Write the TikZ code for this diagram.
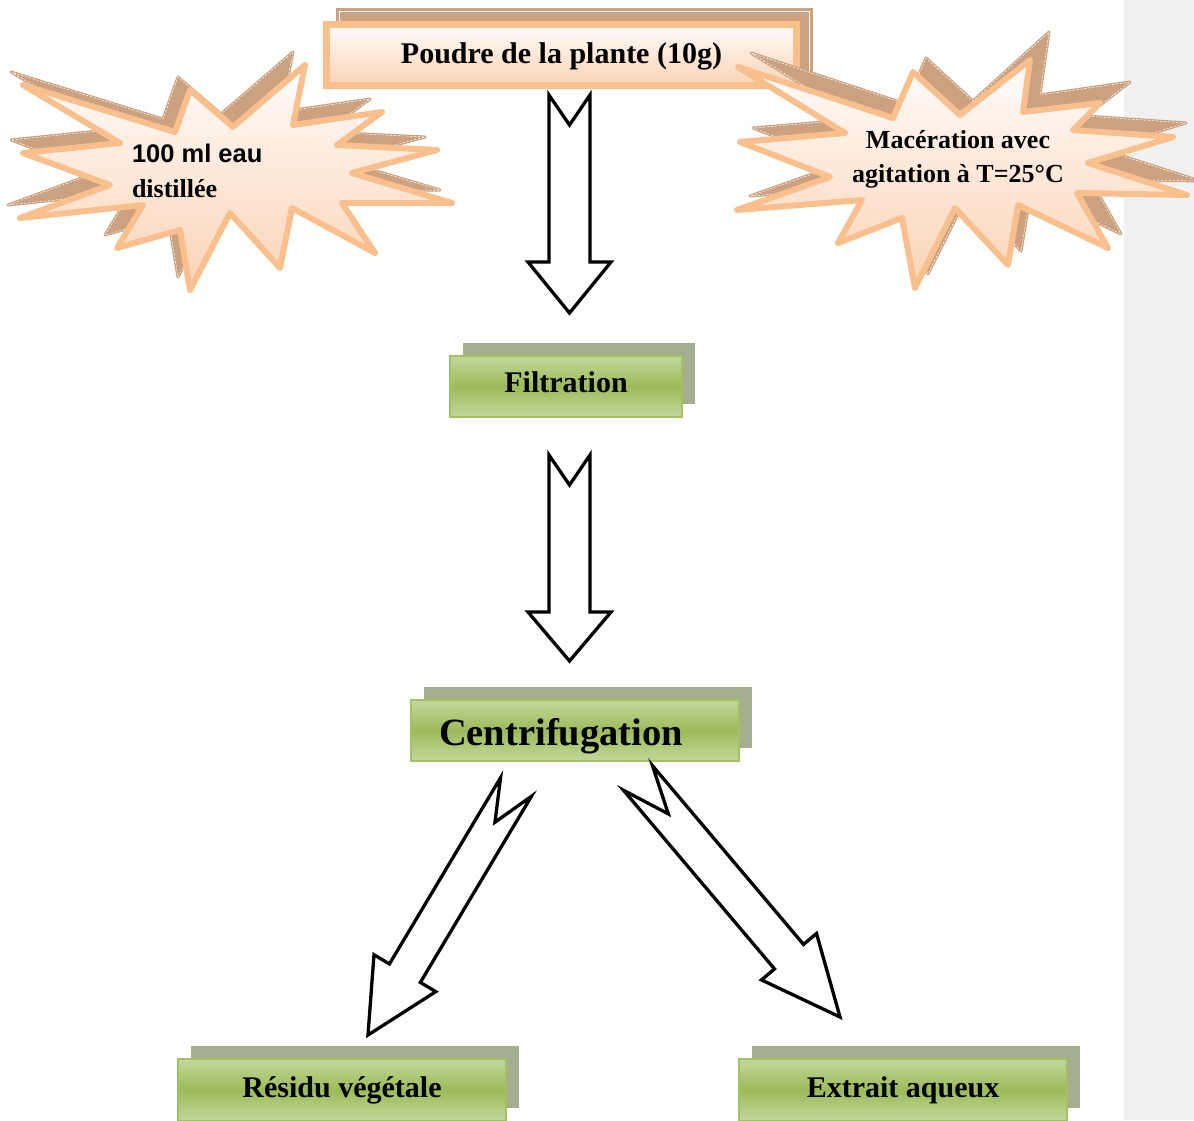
\documentclass[tikz,border=0pt]{standalone}
\usepackage{fontspec}
\setmainfont{Liberation Serif}
\newfontfamily\arialfont{Liberation Sans}
\usetikzlibrary{calc,shadows}
\definecolor{tanshadow}{HTML}{CBA180}
\definecolor{peachborder}{HTML}{F9BF8D}
\definecolor{peachfill}{HTML}{FAD3B6}
\definecolor{peachtop}{HTML}{FFFCFA}
\definecolor{greenlight}{HTML}{C3D89C}
\definecolor{greenmid}{HTML}{9CBB5A}
\definecolor{greenborder}{HTML}{A2C163}
\definecolor{greenshadow}{HTML}{A6AE90}
\definecolor{marginband}{HTML}{F1F1F1}
\tikzset{
  greenbox/.style={draw=greenborder, line width=2pt, top color=greenlight,
    bottom color=greenlight, middle color=greenmid, inner sep=0pt, outer sep=0pt,
    anchor=north west, minimum width=328pt, minimum height=62pt,
    general shadow={fill=greenshadow, shadow xshift=13pt, shadow yshift=13pt},
    font=\bfseries\fontsize{30}{36}\selectfont},
  peachbox/.style={draw=peachborder, line width=7pt, top color=peachtop,
    bottom color=peachfill, inner sep=0pt, outer sep=0pt, anchor=north west,
    font=\bfseries\fontsize{30}{36}\selectfont},
  burstshadow/.style={fill=tanshadow, draw=tanshadow, line width=3pt, line join=round},
  burstdash/.style={draw=white, line width=0.5pt, dash pattern=on 2.5pt off 1.5pt, line join=round},
  burstfront/.style={draw=peachborder, line width=6pt, line join=round,
    top color=peachtop, bottom color=peachfill},
  hollowarrow/.style={draw=black, line width=3.3pt, line join=miter, fill=white},
  bursttext/.style={inner sep=0pt, outer sep=0pt, font=\bfseries\fontsize{26}{31}\selectfont},
}
% #1 tail centre, #2 tip, #3 half shaft width, #4 half head width, #5 head length, #6 notch depth
\newcommand\hollowblockarrow[6]{%
  \path ($(#2)!#5!(#1)$) coordinate (bahead);
  \draw[hollowarrow] ($(#1)!#3!90:(#2)$) -- ($(#1)!#6!(#2)$) -- ($(#1)!#3!-90:(#2)$)
    -- ($(bahead)!#3!-90:(#2)$) -- ($(bahead)!#4!-90:(#2)$) -- (#2)
    -- ($(bahead)!#4!90:(#2)$) -- ($(bahead)!#3!90:(#2)$) -- cycle;}
\def\leftburstpath{(305,65) -- (293,125) -- (382,112) -- (337,145) -- (437,150) -- (352,173) -- (452,203) -- (342,203) -- (375,253) -- (292,208) -- (280,268) -- (230,213) -- (190,290) -- (180,230) -- (117,248) -- (143,205) -- (20,218) -- (110,185) -- (23,153) -- (120,143) -- (23,85) -- (175,132) -- (190,90) -- (233,127) -- cycle}
\def\rightburstpath{(738,67) -- (893,118) -- (913,72) -- (960,115) -- (1030,60) -- (1023,112) -- (1100,103) -- (1073,130) -- (1173,137) -- (1088,163) -- (1187,195) -- (1077,193) -- (1108,248) -- (1018,205) -- (1008,265) -- (955,208) -- (915,288) -- (902,218) -- (838,243) -- (862,200) -- (737,210) -- (830,177) -- (740,142) -- (845,133) -- cycle}
\def\rightshadowpath{(751,53) -- (906,104) -- (926,58) -- (973,101) -- (1049,32) -- (1040,95) -- (1130,82) -- (1086,116) -- (1186,123) -- (1101,149) -- (1200,181) -- (1090,179) -- (1121,234) -- (1031,191) -- (1021,251) -- (968,194) -- (928,274) -- (915,204) -- (851,229) -- (875,186) -- (750,196) -- (843,163) -- (753,128) -- (858,119) -- cycle}
\begin{document}
\begin{tikzpicture}[x=1pt,y=-1pt]
\useasboundingbox (0,0) rectangle (1194,1120);
\clip (0,0) rectangle (1194,1120);
\fill[white] (0,0) rectangle (1194,1120);
\fill[marginband] (1124,0) rectangle (1194,1120);

% top box with its shadow
\fill[tanshadow] (336,8) rectangle (813,80);
\draw[white, line width=0.7pt] (339.5,11.5) rectangle (809.5,78);
\node[peachbox, minimum width=470pt, minimum height=61pt, text height=22pt, text depth=6pt]
  (poudre) at (326.5,24.5) {Poudre de la plante (10g)};

% left starburst
\begin{scope}[shift={(-12,-13)}]
  \path[burstshadow] \leftburstpath;
  \path[burstdash] \leftburstpath;
\end{scope}
\path[burstfront] \leftburstpath;
\node[bursttext, anchor=base west] (eau1) at (132,162) {\arialfont\fontsize{25.5}{31}\selectfont 100 ml eau};
\node[bursttext, anchor=base west] (eau2) at (132,197) {distillée};

% right starburst
\path[burstshadow] \rightshadowpath;
\path[burstdash] \rightshadowpath;
\path[burstfront] \rightburstpath;
\node[bursttext, anchor=base] (mac1) at (958,148) {Macération avec};
\node[bursttext, anchor=base] (mac2) at (958,182) {agitation à T=25°C};

% green boxes
\node[greenbox, minimum width=232pt, minimum height=61pt, text height=20pt, text depth=9pt]
  (filt) at (450,356) {Filtration};
\node[greenbox, minimum height=61pt, text height=29pt, text depth=0pt,
  font=\bfseries\fontsize{38.5}{44}\selectfont]
  (centri) at (411,700) {\hspace*{-28pt}Centrifugation};
\node[greenbox, text height=21pt, text depth=7pt] (resid) at (178,1059) {Résidu végétale};
\node[greenbox, text height=21pt, text depth=7pt] (extr) at (739,1059) {Extrait aqueux};

% hollow block arrows between the steps
\coordinate (a1s) at (569.5,95);   \coordinate (a1e) at (569.5,313);
\coordinate (a2s) at (569.5,455);  \coordinate (a2e) at (569.5,661);
\coordinate (a3s) at (516,787);    \coordinate (a3e) at (368,1035);
\coordinate (a4s) at (638,778);    \coordinate (a4e) at (840,1017);
\hollowblockarrow{a1s}{a1e}{20.5pt}{41.5pt}{51pt}{30pt}
\hollowblockarrow{a2s}{a2e}{20.5pt}{41.5pt}{49pt}{30pt}
\hollowblockarrow{a3s}{a3e}{18pt}{36pt}{72pt}{41pt}
\hollowblockarrow{a4s}{a4e}{19pt}{36pt}{79pt}{47pt}
\end{tikzpicture}
\end{document}
